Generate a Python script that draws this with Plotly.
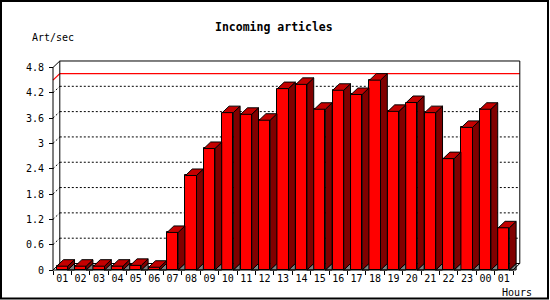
import plotly.graph_objects as go

# ---------------- data ----------------
hours = ["01", "02", "03", "04", "05", "06", "07", "08", "09", "10", "11", "12",
         "13", "14", "15", "16", "17", "18", "19", "20", "21", "22", "23", "00", "01"]
rates = [0.09, 0.09, 0.09, 0.09, 0.11, 0.065, 0.89, 2.24, 2.88, 3.73, 3.69, 3.55,
         4.30, 4.40, 3.81, 4.26, 4.16, 4.50, 3.76, 3.97, 3.73, 2.64, 3.38, 3.81, 1.00]
y_tick_values = [0, 0.6, 1.2, 1.8, 2.4, 3.0, 3.6, 4.2, 4.8]
y_tick_labels = ["0", "0.6", "1.2", "1.8", "2.4", "3", "3.6", "4.2", "4.8"]
title_text = "Incoming articles"
y_title = "Art/sec"
x_title = "Hours"

# ---------------- geometry / style ----------------
FIG_W, FIG_H = 550, 300
SLOT_PX = 18.4          # pixels per category slot
UNIT_PX = 42.19         # pixels per y unit
FRONT_X0 = 53.0         # pixel x of front-plane left edge
FRONT_Y0 = 270.0        # pixel y of value 0 on front plane
DEPTH_X_PX = 6.8
DEPTH_Y_PX = 6.5
PL, PR, PT, PB = 45, 528, 55, 278   # plot area in pixels
BAR_FRAC = 0.6

RED = "#FF0000"
TOP = "#C40000"
SIDE = "#800000"
SHADOW = "#808080"
MONO = "DejaVu Sans Mono"

DX = DEPTH_X_PX / SLOT_PX
DY = DEPTH_Y_PX / UNIT_PX
n = len(rates)
xs = list(range(n))
x_lo, x_hi = -0.5, n - 0.5
y_top = y_tick_values[-1]
max_rate = max(rates)

xrange = [x_lo - (FRONT_X0 - PL) / SLOT_PX, x_lo + (PR - FRONT_X0) / SLOT_PX]
yrange = [-(PB - FRONT_Y0) / UNIT_PX, (FRONT_Y0 - PT) / UNIT_PX]


def paper_x(px):
    return (px - PL) / (PR - PL)


def paper_y(py):
    return (PB - py) / (PB - PT)


fig = go.Figure()

# front faces
fig.add_trace(go.Bar(
    x=xs, y=rates, width=BAR_FRAC,
    marker=dict(color=RED, line=dict(color="black", width=1)),
    hoverinfo="skip", showlegend=False,
))

half = BAR_FRAC / 2
sh_x, sh_y, sd_x, sd_y, tp_x, tp_y = [], [], [], [], [], []
for i, v in enumerate(rates):
    x0, x1 = i - half, i + half
    sh_x += [x1, x1 + DX, x1 + DX, x1, None]
    sh_y += [0, DY, 0, 0, None]
    sd_x += [x1, x1, x1 + DX, x1 + DX, x1, None]
    sd_y += [0, v, v + DY, DY, 0, None]
    tp_x += [x0, x1, x1 + DX, x0 + DX, x0, None]
    tp_y += [v, v, v + DY, v + DY, v, None]

for px_, py_, col in [(sh_x, sh_y, SHADOW), (sd_x, sd_y, SIDE), (tp_x, tp_y, TOP)]:
    fig.add_trace(go.Scatter(
        x=px_, y=py_, mode="lines", fill="toself", fillcolor=col,
        line=dict(color="black", width=1), hoverinfo="skip", showlegend=False,
    ))

shapes = []
# back-plane grid lines and slanted connectors
for t in y_tick_values[1:-1]:
    shapes.append(dict(type="line", xref="x", yref="y", layer="below",
                       x0=x_lo + DX, x1=x_hi + DX, y0=t + DY, y1=t + DY,
                       line=dict(color="black", width=1, dash="2px,2px")))
    shapes.append(dict(type="line", xref="x", yref="y", layer="below",
                       x0=x_lo, x1=x_lo + DX, y0=t, y1=t + DY,
                       line=dict(color="black", width=1, dash="2px,2px")))
# max line (red)
shapes.append(dict(type="line", xref="x", yref="y", layer="below",
                   x0=x_lo + DX, x1=x_hi + DX, y0=max_rate + DY, y1=max_rate + DY,
                   line=dict(color="#FF0000", width=1.3)))
shapes.append(dict(type="line", xref="x", yref="y", layer="below",
                   x0=x_lo, x1=x_lo + DX, y0=max_rate, y1=max_rate + DY,
                   line=dict(color="#FF0000", width=1.3)))
# back frame
shapes.append(dict(type="rect", xref="x", yref="y", layer="below",
                   x0=x_lo + DX, x1=x_hi + DX, y0=DY, y1=y_top + DY,
                   line=dict(color="black", width=1)))
# front axis lines and corner diagonals
shapes.append(dict(type="line", xref="x", yref="y", x0=x_lo, x1=x_lo, y0=0, y1=y_top,
                   line=dict(color="black", width=1)))
shapes.append(dict(type="line", xref="x", yref="y", x0=x_lo, x1=x_hi, y0=0, y1=0,
                   line=dict(color="black", width=1)))
for (xa, ya) in [(x_lo, 0), (x_lo, y_top), (x_hi, 0)]:
    shapes.append(dict(type="line", xref="x", yref="y", x0=xa, x1=xa + DX, y0=ya, y1=ya + DY,
                       line=dict(color="black", width=1)))
# outer border
shapes.append(dict(type="rect", xref="paper", yref="paper",
                   x0=paper_x(1), x1=paper_x(548), y0=paper_y(298.5), y1=paper_y(1),
                   line=dict(color="black", width=2)))

annotations = [
    dict(text="<b>" + title_text + "</b>", xref="paper", yref="paper",
         x=paper_x(274), y=paper_y(27.5), xanchor="center", yanchor="middle",
         showarrow=False, font=dict(family=MONO, size=11.5, color="black")),
    dict(text=y_title, xref="paper", yref="paper",
         x=paper_x(30), y=paper_y(37.5), xanchor="left", yanchor="middle",
         showarrow=False, font=dict(family=MONO, size=10, color="black")),
    dict(text=x_title, xref="paper", yref="paper",
         x=paper_x(533.5), y=paper_y(292.5), xanchor="right", yanchor="middle",
         showarrow=False, font=dict(family=MONO, size=10, color="black")),
]

fig.update_layout(
    width=FIG_W, height=FIG_H,
    margin=dict(l=PL, r=FIG_W - PR, t=PT, b=FIG_H - PB, pad=0),
    paper_bgcolor="white", plot_bgcolor="white",
    showlegend=False, bargap=0,
    shapes=shapes, annotations=annotations,
    xaxis=dict(
        range=xrange, anchor="free", position=paper_y(FRONT_Y0),
        showgrid=False, zeroline=False, showline=False,
        tickmode="array", tickvals=xs, ticktext=hours,
        ticks="outside", ticklen=0, tickcolor="rgba(0,0,0,0)",
        ticklabelstandoff=-1,
        minor=dict(tickmode="array", tickvals=[i - 0.5 for i in range(n + 1)],
                   ticks="outside", ticklen=4, tickcolor="black", tickwidth=1,
                   showgrid=False),
        tickfont=dict(family=MONO, size=10, color="black"),
        fixedrange=True,
    ),
    yaxis=dict(
        range=yrange, anchor="free", position=paper_x(FRONT_X0),
        showgrid=False, zeroline=False, showline=False,
        tickmode="array", tickvals=y_tick_values, ticktext=y_tick_labels,
        ticks="outside", ticklen=4, tickcolor="black", tickwidth=1,
        ticklabelstandoff=3,
        tickfont=dict(family=MONO, size=10, color="black"),
        fixedrange=True,
    ),
)

fig.write_html("out.html", config={"displayModeBar": False})
